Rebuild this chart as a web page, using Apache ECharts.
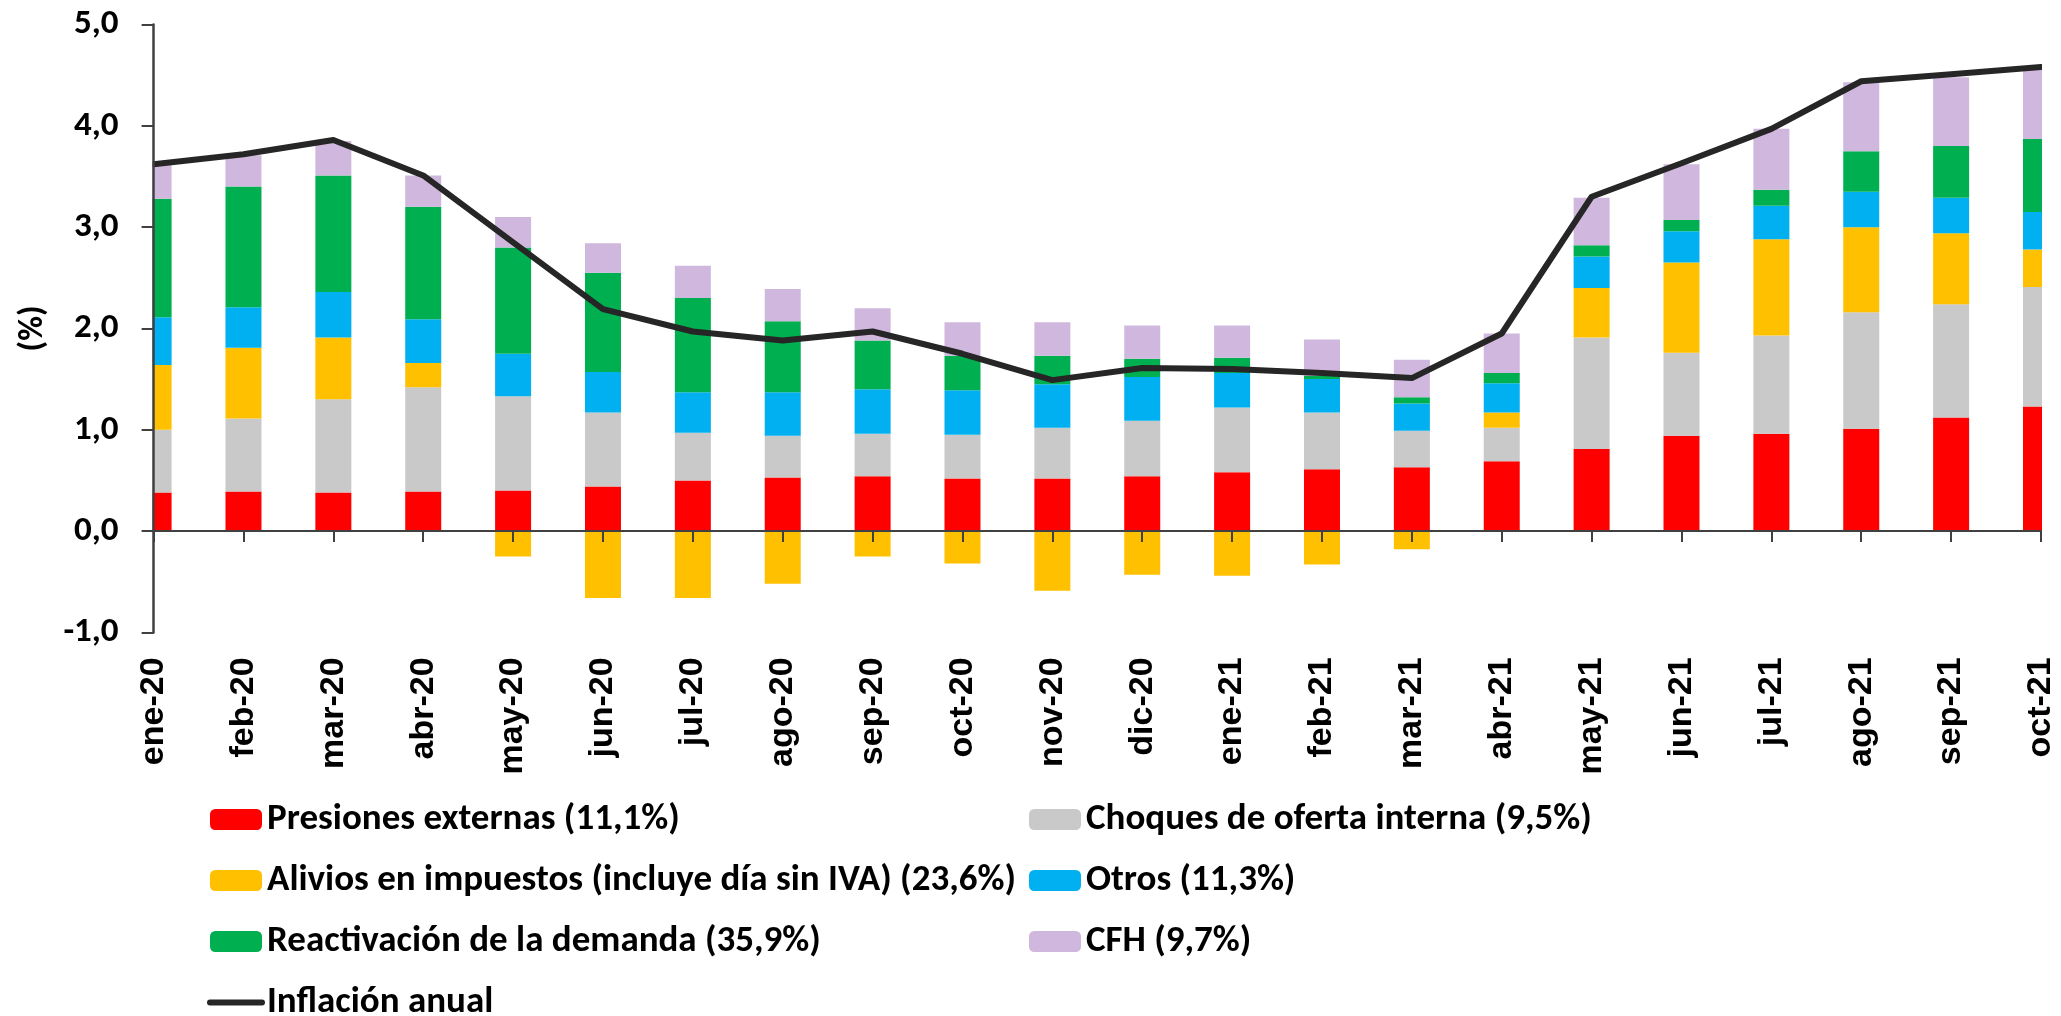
<!DOCTYPE html>
<html>
<head>
<meta charset="utf-8">
<title>Descomposición de la inflación</title>
<script src="https://cdn.jsdelivr.net/npm/echarts@6/dist/echarts.min.js"></script>
<style>
  html, body { margin: 0; padding: 0; background: #fff; }
  #chart { width: 2061px; height: 1016px; }
</style>
</head>
<body>
<div id="chart"></div>
<script>
const months = ['ene-20', 'feb-20', 'mar-20', 'abr-20', 'may-20', 'jun-20', 'jul-20', 'ago-20', 'sep-20', 'oct-20', 'nov-20', 'dic-20',
  'ene-21', 'feb-21', 'mar-21', 'abr-21', 'may-21', 'jun-21', 'jul-21', 'ago-21', 'sep-21', 'oct-21'];

const presiones = [0.38, 0.39, 0.38, 0.39, 0.40, 0.44, 0.50, 0.53, 0.54, 0.52, 0.52, 0.54, 0.58, 0.61, 0.63, 0.69, 0.81, 0.94, 0.96, 1.01, 1.12, 1.23];
const choques = [0.62, 0.72, 0.92, 1.03, 0.93, 0.73, 0.47, 0.41, 0.42, 0.43, 0.50, 0.55, 0.64, 0.56, 0.36, 0.33, 1.10, 0.82, 0.97, 1.15, 1.12, 1.18];
const alivios = [0.64, 0.70, 0.61, 0.24, -0.25, -0.66, -0.66, -0.52, -0.25, -0.32, -0.59, -0.43, -0.44, -0.33, -0.18, 0.15, 0.49, 0.89, 0.95, 0.84, 0.70, 0.37];
const otros = [0.47, 0.40, 0.45, 0.43, 0.42, 0.40, 0.40, 0.43, 0.44, 0.44, 0.43, 0.43, 0.34, 0.33, 0.27, 0.29, 0.31, 0.31, 0.33, 0.35, 0.35, 0.37];
const reactivacion = [1.17, 1.19, 1.15, 1.11, 1.05, 0.98, 0.93, 0.70, 0.48, 0.34, 0.28, 0.18, 0.15, 0.03, 0.06, 0.10, 0.11, 0.11, 0.16, 0.40, 0.51, 0.72];
const cfh = [0.34, 0.31, 0.34, 0.31, 0.30, 0.29, 0.32, 0.32, 0.32, 0.33, 0.33, 0.33, 0.32, 0.36, 0.37, 0.39, 0.47, 0.55, 0.60, 0.68, 0.68, 0.68];
const inflacion = [3.62, 3.72, 3.86, 3.51, 2.85, 2.19, 1.97, 1.88, 1.97, 1.75, 1.49, 1.61, 1.60, 1.56, 1.51, 1.95, 3.30, 3.63, 3.97, 4.44, 4.51, 4.58];

const yTicks = [-1, 0, 1, 2, 3, 4, 5];

const names = {
  presiones: 'Presiones externas (11,1%)',
  choques: 'Choques de oferta interna (9,5%)',
  alivios: 'Alivios en impuestos (incluye día sin IVA) (23,6%)',
  otros: 'Otros (11,3%)',
  reactivacion: 'Reactivación de la demanda (35,9%)',
  cfh: 'CFH (9,7%)',
  inflacion: 'Inflación anual'
};

const FONT = 'Carlito, Calibri, "Open Sans", sans-serif';
const AXIS_COLOR = '#404040';

const chart = echarts.init(document.getElementById('chart'));

const barSeries = (name, data, color) => ({
  name: name,
  type: 'bar',
  stack: 'total',
  data: data,
  barWidth: 36,
  itemStyle: { color: color },
  emphasis: { disabled: true }
});

// legend rows are 61px apart; text box height follows the font size (37)
const legendBase = {
  orient: 'vertical',
  top: 801,
  height: 320,
  padding: 0,
  itemWidth: 52,
  itemHeight: 21,
  itemGap: 24,
  selectedMode: false,
  lineStyle: { width: 6, cap: 'round' },
  textStyle: {
    color: '#000',
    fontFamily: FONT,
    fontWeight: 'bold',
    fontSize: 37
  }
};

const option = {
  animation: false,
  backgroundColor: '#fff',
  grid: {
    left: 153.6,
    right: 20,
    top: 24.5,
    bottom: 383.6,
    containLabel: false
  },
  legend: [
    Object.assign({}, legendBase, {
      left: 207,
      data: [names.presiones, names.alivios, names.reactivacion,
        { name: names.inflacion, itemStyle: { opacity: 0 } }]
    }),
    Object.assign({}, legendBase, {
      left: 1029,
      data: [names.choques, names.otros, names.cfh]
    })
  ],
  xAxis: [
    {
      type: 'category',
      data: months,
      boundaryGap: false,
      z: 10,
      axisLine: { onZero: true, lineStyle: { color: AXIS_COLOR, width: 2 } },
      axisTick: { show: true, length: 11, lineStyle: { color: AXIS_COLOR, width: 2 } },
      axisLabel: { show: false },
      splitLine: { show: false }
    },
    {
      type: 'category',
      data: months,
      boundaryGap: false,
      position: 'bottom',
      axisLine: { show: false, onZero: false },
      axisTick: { show: false },
      splitLine: { show: false },
      axisLabel: {
        rotate: 90,
        margin: 25,
        interval: 0,
        color: '#000',
        fontFamily: '"Liberation Sans", Arial, sans-serif',
        fontWeight: 'bold',
        fontSize: 34
      }
    }
  ],
  yAxis: {
    type: 'value',
    min: yTicks[0],
    max: yTicks[yTicks.length - 1],
    interval: 1,
    z: 10,
    name: '(%)',
    nameLocation: 'middle',
    nameRotate: 90,
    nameGap: 103,
    nameTextStyle: {
      color: '#000',
      fontFamily: FONT,
      fontWeight: 'bold',
      fontSize: 34
    },
    axisLine: { show: true, onZero: false, lineStyle: { color: AXIS_COLOR, width: 2.5 } },
    axisTick: { show: true, length: 12, lineStyle: { color: AXIS_COLOR, width: 2 } },
    splitLine: { show: false },
    axisLabel: {
      margin: 35,
      color: '#000',
      fontFamily: FONT,
      fontWeight: 'bold',
      fontSize: 35,
      formatter: v => v.toFixed(1).replace('.', ',')
    }
  },
  series: [
    barSeries(names.presiones, presiones, '#FF0000'),
    barSeries(names.choques, choques, '#C9C9C9'),
    barSeries(names.alivios, alivios, '#FFC000'),
    barSeries(names.otros, otros, '#00B0F0'),
    barSeries(names.reactivacion, reactivacion, '#00AF50'),
    barSeries(names.cfh, cfh, '#D0B7DD'),
    {
      name: names.inflacion,
      type: 'line',
      data: inflacion,
      symbol: 'none',
      z: 5,
      lineStyle: { color: '#262626', width: 6, cap: 'round', join: 'round' },
      itemStyle: { color: '#262626' },
      emphasis: { disabled: true }
    }
  ]
};

chart.setOption(option);

// Excel cuts the first and last bars at the plot edges; ECharts widens the
// clip area for boundaryGap:false, so mask the overhang outside the axes.
const xFirst = chart.convertToPixel({ xAxisIndex: 0 }, months[0]);
const xLast = chart.convertToPixel({ xAxisIndex: 0 }, months[months.length - 1]);
const yTop = chart.convertToPixel({ yAxisIndex: 0 }, yTicks[yTicks.length - 1]);
const yBottom = chart.convertToPixel({ yAxisIndex: 0 }, yTicks[0]);
const maskW = 30;
chart.setOption({
  graphic: [
    {
      type: 'rect', silent: true, z: 8,
      shape: { x: xFirst - maskW, y: yTop - 10, width: maskW - 1, height: yBottom - yTop + 9 },
      style: { fill: '#fff' }
    },
    {
      type: 'rect', silent: true, z: 8,
      shape: { x: xLast + 1, y: yTop - 10, width: maskW, height: yBottom - yTop + 9 },
      style: { fill: '#fff' }
    }
  ]
});
</script>
</body>
</html>
